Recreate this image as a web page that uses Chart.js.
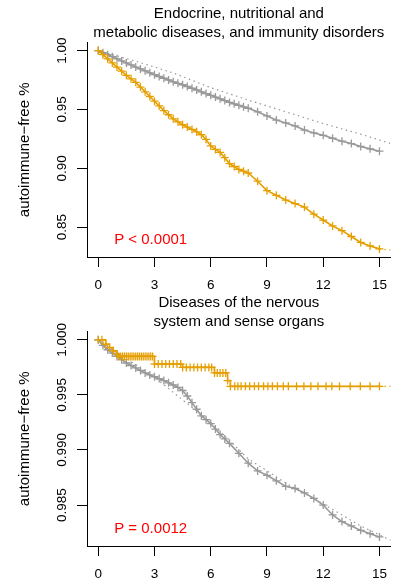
<!DOCTYPE html>
<html>
<head>
<meta charset="utf-8">
<script src="https://cdn.jsdelivr.net/npm/chart.js@4.4.0/dist/chart.umd.min.js"></script>
<style>
  body { margin: 0; background: #fff; }
  #wrap { position: relative; width: 396px; height: 587px; }
  canvas { position: absolute; left: 0; }
</style>
</head>
<body>
<div id="wrap">
  <canvas id="endo" width="396" height="293" style="top:0"></canvas>
  <canvas id="nerv" width="396" height="298" style="top:289px"></canvas>
</div>
<script>
/*==================== data ====================*/
// x ticks (years) shared by both panels
const xTicks = [0, 3, 6, 9, 12, 15];

// panel 1: Endocrine, nutritional and metabolic diseases, and immunity disorders
const endoYears = [0, 0.25, 0.5, 0.75, 1, 1.25, 1.5, 1.75, 2, 2.25, 2.5, 2.75, 3, 3.25, 3.5, 3.75,
  4, 4.25, 4.5, 4.75, 5, 5.25, 5.5, 5.75, 6, 6.25, 6.5, 6.75, 7, 7.25, 7.5, 7.75, 8,
  8.5, 9, 9.5, 10, 10.5, 11, 11.5, 12, 12.5, 13, 13.5, 14, 14.5, 15];
const endoControl = [1.0, 0.9982, 0.9965, 0.9948, 0.993, 0.9912, 0.9895, 0.9878, 0.986, 0.9844,
  0.9828, 0.9811, 0.9795, 0.978, 0.9765, 0.975, 0.9735, 0.9722, 0.971, 0.9695, 0.968, 0.9665,
  0.965, 0.9635, 0.962, 0.9605, 0.959, 0.9575, 0.956, 0.9548, 0.9535, 0.9522, 0.951,
  0.948, 0.9445, 0.941, 0.9385, 0.936, 0.9325, 0.930, 0.928, 0.9255, 0.923, 0.921, 0.9185,
  0.9165, 0.9145];
const endoCase = [1.0, 0.9965, 0.993, 0.9895, 0.986, 0.9825, 0.979, 0.976, 0.973, 0.969,
  0.965, 0.961, 0.957, 0.953, 0.949, 0.9455, 0.942, 0.9395, 0.937, 0.935, 0.933, 0.931,
  0.9285, 0.9245, 0.919, 0.916, 0.9135, 0.909, 0.904, 0.9015, 0.899, 0.8975, 0.896,
  0.889, 0.881, 0.877, 0.873, 0.870, 0.867, 0.861, 0.856, 0.851, 0.847, 0.842, 0.837,
  0.834, 0.8315];
const endoExpYears = [0, 2, 4, 6, 8, 10, 12, 14, 15.6];
const endoExpected = [1.0, 0.991, 0.981, 0.9685, 0.958, 0.948, 0.938, 0.929, 0.921];
const endoTailYears = [15, 15.6];
const endoCaseTail = [0.8315, 0.8305];
const endoYTicks = [0.85, 0.90, 0.95, 1.00];

// panel 2: Diseases of the nervous system and sense organs
const nervCtrlYears = [0, 0.25, 0.5, 0.75, 1, 1.25, 1.5, 1.75, 2, 2.25, 2.5, 2.75, 3, 3.25, 3.5,
  3.75, 4, 4.25, 4.5, 4.75, 5, 5.25, 5.5, 5.75, 6, 6.25, 6.5, 6.75, 7,
  7.5, 8, 8.5, 9, 9.5, 10, 10.5, 11, 11.5, 12, 12.5, 13, 13.5, 14, 14.5, 15];
const nervControl = [1.0, 0.9995, 0.9991, 0.9988, 0.9985, 0.9982, 0.9979, 0.99767, 0.99745,
  0.99722, 0.9970, 0.99682, 0.99665, 0.99648, 0.9963, 0.9961, 0.9959, 0.99568, 0.9954,
  0.9949, 0.9943, 0.9937, 0.9931, 0.99275, 0.9924, 0.9919, 0.9914, 0.9910, 0.9906,
  0.9897, 0.9888, 0.9881, 0.9877, 0.9872, 0.9867, 0.9865, 0.9861, 0.9856, 0.9850, 0.9841,
  0.9835, 0.9831, 0.9827, 0.9824, 0.9821];
const nervCaseYears = [0, 0.2, 0.4, 0.6, 0.8, 1.0, 1.1, 1.2, 1.3, 1.4, 1.5, 1.6, 1.7, 1.8, 1.9,
  2.0, 2.1, 2.2, 2.3, 2.4, 2.5, 2.6, 2.7, 2.8, 2.9,
  3.0, 3.2, 3.4, 3.6, 3.8, 4.0, 4.2, 4.4,
  4.5, 4.7, 4.9, 5.1, 5.3, 5.5, 5.7, 5.9, 6.05,
  6.2, 6.35, 6.5, 6.65, 6.8, 6.9,
  7.05, 7.28, 7.45, 7.62, 7.85, 8.08, 8.33, 8.55, 8.82, 9.05, 9.29, 9.56, 9.87, 10.14, 10.58,
  10.97, 11.34, 11.72, 12.15, 12.46, 12.87, 13.44, 13.98, 14.5, 15.0];
const nervCase = [1.0, 1.0, 0.9996, 0.9993, 0.9990, 0.9987, 0.9985, 0.9985, 0.9985, 0.9985,
  0.9985, 0.9985, 0.9985, 0.9985, 0.9985, 0.9985, 0.9985, 0.9985, 0.9985, 0.9985, 0.9985,
  0.9985, 0.9985, 0.9985, 0.9985,
  0.9978, 0.9978, 0.9978, 0.9978, 0.9978, 0.9978, 0.9978, 0.9978,
  0.9975, 0.9975, 0.9975, 0.9975, 0.9975, 0.9975, 0.9975, 0.9975, 0.9975,
  0.9970, 0.9970, 0.9970, 0.9970, 0.9970, 0.9963,
  0.99578, 0.99578, 0.99578, 0.99578, 0.99578, 0.99578, 0.99578, 0.99578, 0.99578, 0.99578,
  0.99578, 0.99578, 0.99578, 0.99578, 0.99578, 0.99578, 0.99578, 0.99578, 0.99578, 0.99578,
  0.99578, 0.99578, 0.99578, 0.99578, 0.99578];
const nervExpYears = [0, 3, 6, 8, 10, 12, 14, 15.6];
const nervExpected = [1.0, 0.9966, 0.9925, 0.9892, 0.9870, 0.9851, 0.9831, 0.9818];
const nervTailYears = [15, 15.6];
const nervCaseTail = [0.99578, 0.99578];
const nervYTicks = [0.985, 0.990, 0.995, 1.000];

const ORANGE = '#E69F00';
const GREY = '#999999';
const FONT = '"Liberation Sans", Arial, Helvetica, sans-serif';

function pts(xs, ys) {
  return xs.map((x, i) => ({x: x, y: ys[i]}));
}

// y tick labels (rotated like R) and the p-value text
const panelText = {
  id: 'panelText',
  afterDraw(chart, args, opts) {
    const {ctx, chartArea, scales} = chart;
    const y = scales.y, x = scales.x;
    ctx.save();
    ctx.fillStyle = '#000';
    ctx.font = '13.5px ' + FONT;
    ctx.textAlign = 'center';
    ctx.textBaseline = 'middle';
    y.ticks.forEach(t => {
      ctx.save();
      ctx.translate(y.right - 24.5, y.getPixelForValue(t.value));
      ctx.rotate(-Math.PI / 2);
      ctx.fillText(t.value.toFixed(opts.decimals), 0, 0);
      ctx.restore();
    });
    ctx.fillStyle = '#ff0000';
    ctx.font = '15px ' + FONT;
    ctx.textAlign = 'left';
    ctx.fillText(opts.pText, x.getPixelForValue(0.85), chartArea.bottom - 17);
    ctx.restore();
  }
};

function makePanel(id, title, datasets, yMin, yMax, yTicks, decimals, pText) {
  const canvas = document.getElementById(id);
  const xHeight = canvas.height - 257;
  return new Chart(canvas, {
    type: 'line',
    data: {datasets: datasets},
    plugins: [panelText],
    options: {
      responsive: false,
      animation: false,
      layout: {padding: {left: 0, right: 3, top: 0, bottom: 0}},
      plugins: {
        legend: {display: false},
        tooltip: {enabled: false},
        title: {
          display: true,
          text: title,
          fullSize: false,
          color: '#000',
          font: {family: FONT, size: 15, weight: 'normal', lineHeight: 1.27},
          padding: {top: 4.5, bottom: 0}
        },
        panelText: {decimals: decimals, pText: pText}
      },
      scales: {
        x: {
          type: 'linear',
          min: -0.6,
          max: 15.6,
          afterBuildTicks: s => { s.ticks = xTicks.map(v => ({value: v})); },
          afterFit: s => { s.height = xHeight; s.paddingLeft = 0; s.paddingRight = 0; },
          grid: {drawOnChartArea: false, drawTicks: true, tickLength: 10, color: '#000', lineWidth: 1},
          border: {display: true, color: '#000', width: 1},
          ticks: {color: '#000', font: {family: FONT, size: 13.5}, padding: 10, maxRotation: 0, autoSkip: false}
        },
        y: {
          type: 'linear',
          min: yMin,
          max: yMax,
          afterBuildTicks: s => { s.ticks = yTicks.map(v => ({value: v})); },
          afterFit: s => { s.width = 87; s.paddingTop = 0; s.paddingBottom = 0; },
          grid: {drawOnChartArea: false, drawTicks: true, tickLength: 10, color: '#000', lineWidth: 1},
          border: {display: true, color: '#000', width: 1},
          ticks: {display: false},
          title: {
            display: true,
            text: 'autoimmune\u2212free %',
            color: '#000',
            font: {family: FONT, size: 15},
            padding: {top: 16, bottom: 0}
          }
        }
      }
    }
  });
}

function curve(data, color, stepped) {
  return {
    data: data, borderColor: color, borderWidth: 1.6, fill: false, tension: 0,
    stepped: stepped, pointStyle: 'cross', pointRadius: 4, pointBorderWidth: 1.3,
    pointBorderColor: color, pointBackgroundColor: color
  };
}

function dotted(data, color) {
  return {
    data: data, borderColor: color, borderWidth: 1.2, borderDash: [1.5, 3.5],
    fill: false, tension: 0, pointRadius: 0
  };
}

makePanel('endo',
  ['Endocrine, nutritional and', 'metabolic diseases, and immunity disorders'],
  [
    curve(pts(endoYears, endoCase), ORANGE, false),
    curve(pts(endoYears, endoControl), GREY, false),
    dotted(pts(endoExpYears, endoExpected), GREY),
    dotted(pts(endoTailYears, endoCaseTail), ORANGE)
  ],
  0.8246, 1.0068, endoYTicks, 2, 'P < 0.0001');

makePanel('nerv',
  ['Diseases of the nervous', 'system and sense organs'],
  [
    curve(pts(nervCaseYears, nervCase), ORANGE, true),
    curve(pts(nervCtrlYears, nervControl), GREY, false),
    dotted(pts(nervExpYears, nervExpected), GREY),
    dotted(pts(nervTailYears, nervCaseTail), ORANGE)
  ],
  0.98128, 1.00075, nervYTicks, 3, 'P = 0.0012');
</script>
</body>
</html>
